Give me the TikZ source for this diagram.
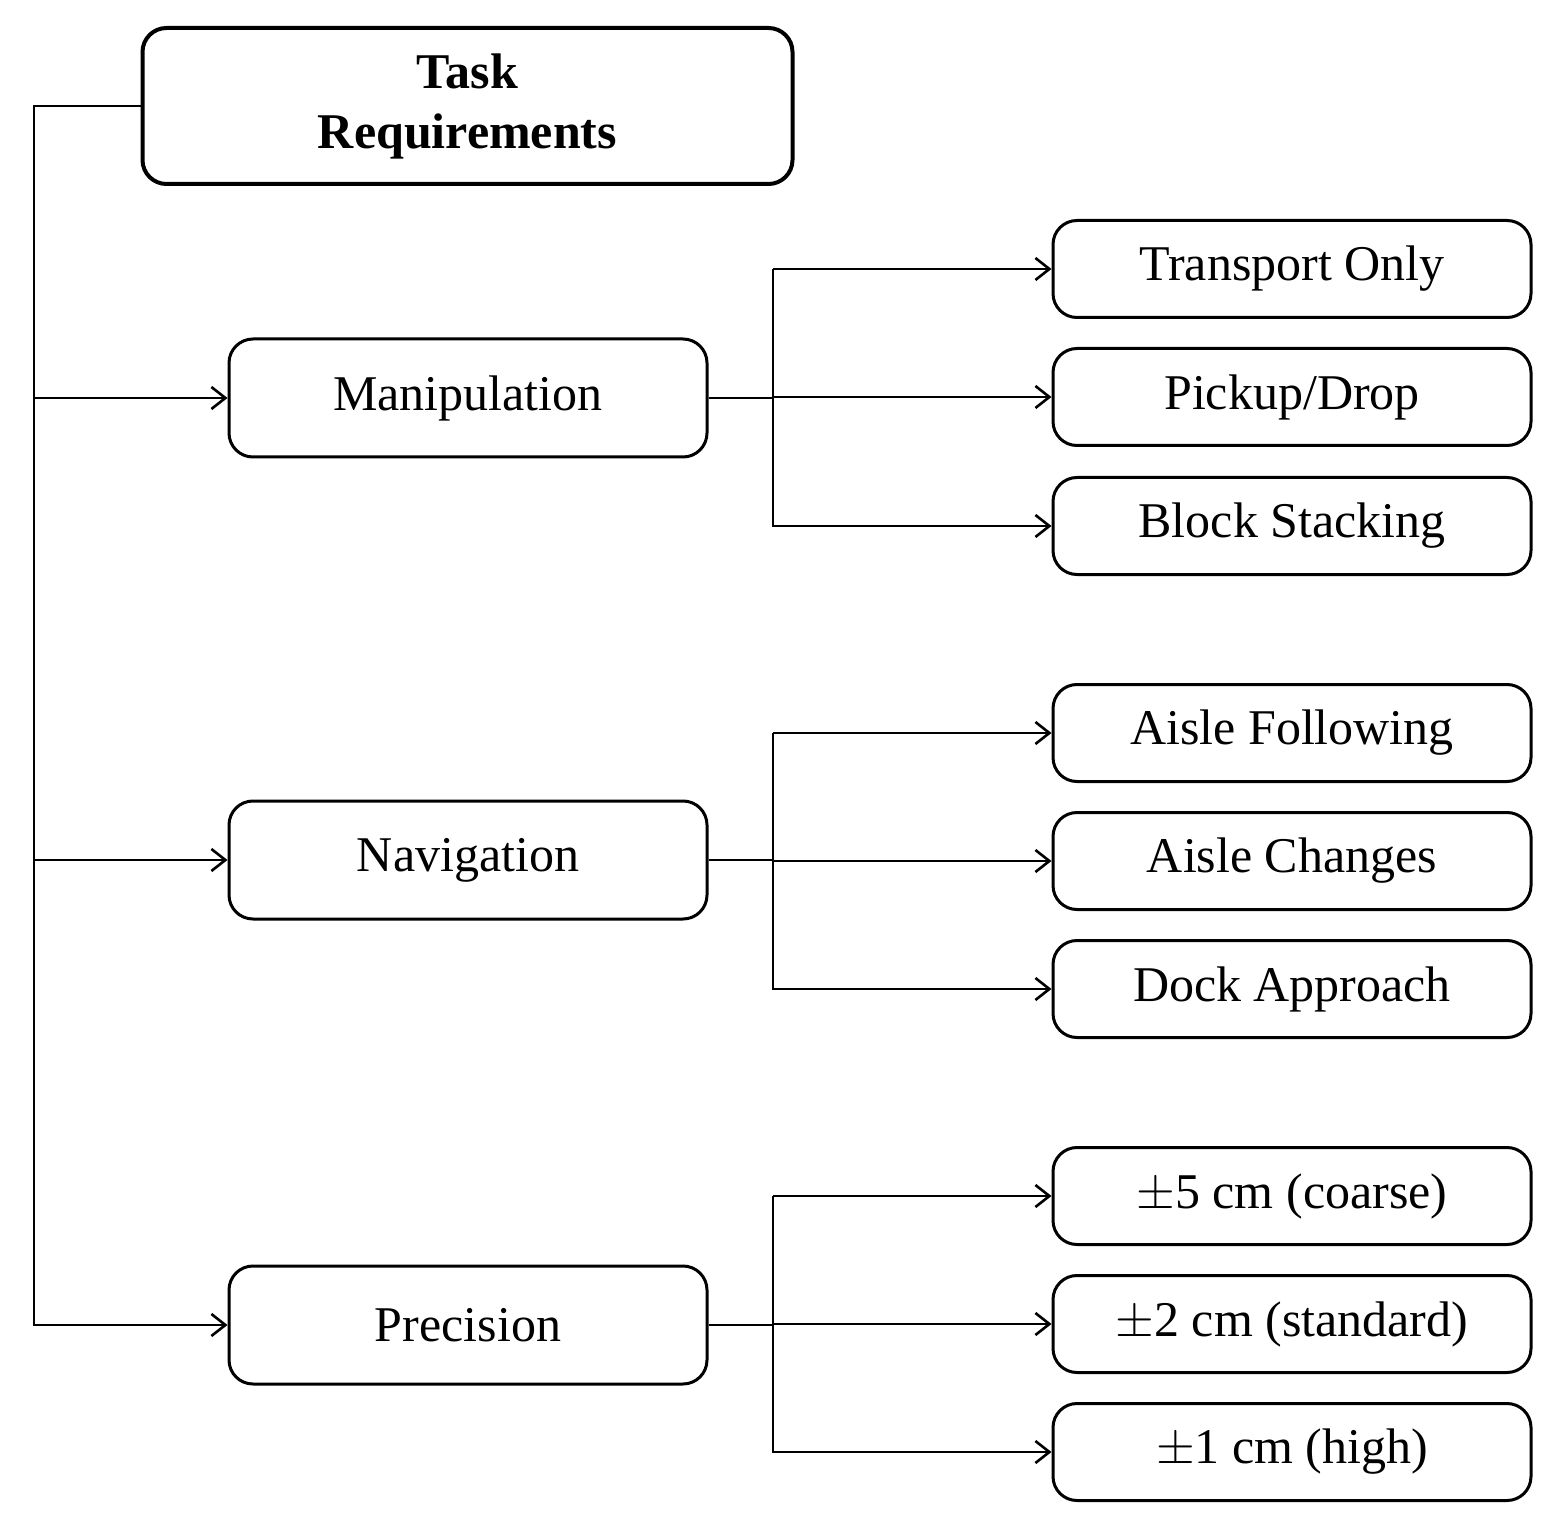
\documentclass[tikz,border=0pt]{standalone}
\usepackage{fontspec}
\setmainfont{Liberation Serif}
\usetikzlibrary{arrows.meta}
\begin{document}
\begin{tikzpicture}[x=0.5pt,y=-0.5pt,
  box/.style={draw,line width=1.5pt,rounded corners=12pt,font=\fontsize{25}{30}\selectfont,inner sep=0pt},
  mid/.style={box,minimum width=239pt,minimum height=59pt},
  leaf/.style={box,minimum width=239pt,minimum height=48.5pt},
  conn/.style={line width=1.3pt},
  arr/.style={conn,-{Straight Barb[length=7pt,width=11pt,line width=1.3pt]}}]
\useasboundingbox (0,0) rectangle (1562,1534);
\node[box,line width=2pt,minimum width=325pt,minimum height=78pt,align=center,font=\fontsize{25}{30}\selectfont\bfseries] (root) at (467.5,106) {Task\\Requirements};
\node[mid] (man) at (468,398) {Manipulation};
\node[mid] (nav) at (468,860) {Navigation};
\node[mid] (pre) at (468,1325) {Precision};
\node[leaf] (l1) at (1292,269) {Transport Only};
\node[leaf] (l2) at (1292,397) {Pickup/Drop};
\node[leaf] (l3) at (1292,526) {Block Stacking};
\node[leaf] (l4) at (1292,733) {Aisle Following};
\node[leaf] (l5) at (1292,861) {Aisle Changes};
\node[leaf] (l6) at (1292,989) {Dock Approach};
\node[leaf] (l7) at (1292,1196) {$\pm$5 cm (coarse)};
\node[leaf] (l8) at (1292,1324) {$\pm$2 cm (standard)};
\node[leaf] (l9) at (1292,1452) {$\pm$1 cm (high)};
\coordinate (tt) at (34,106);
\draw[arr] (root.west) -- (tt) |- (pre.west);
\draw[arr] (tt |- man.west) -- (man.west);
\draw[arr] (tt |- nav.west) -- (nav.west);
\foreach \m/\a/\b/\c in {man/l1/l2/l3,nav/l4/l5/l6,pre/l7/l8/l9}{
  \coordinate (b\m) at (773,0);
  \draw[conn] (\m.east) -- (b\m |- \m.east);
  \draw[arr] (b\m |- \a.west) -- (\a.west);
  \draw[arr] (b\m |- \b.west) -- (\b.west);
  \draw[arr] (b\m |- \a.west) |- (\c.west);
}
\end{tikzpicture}
\end{document}
